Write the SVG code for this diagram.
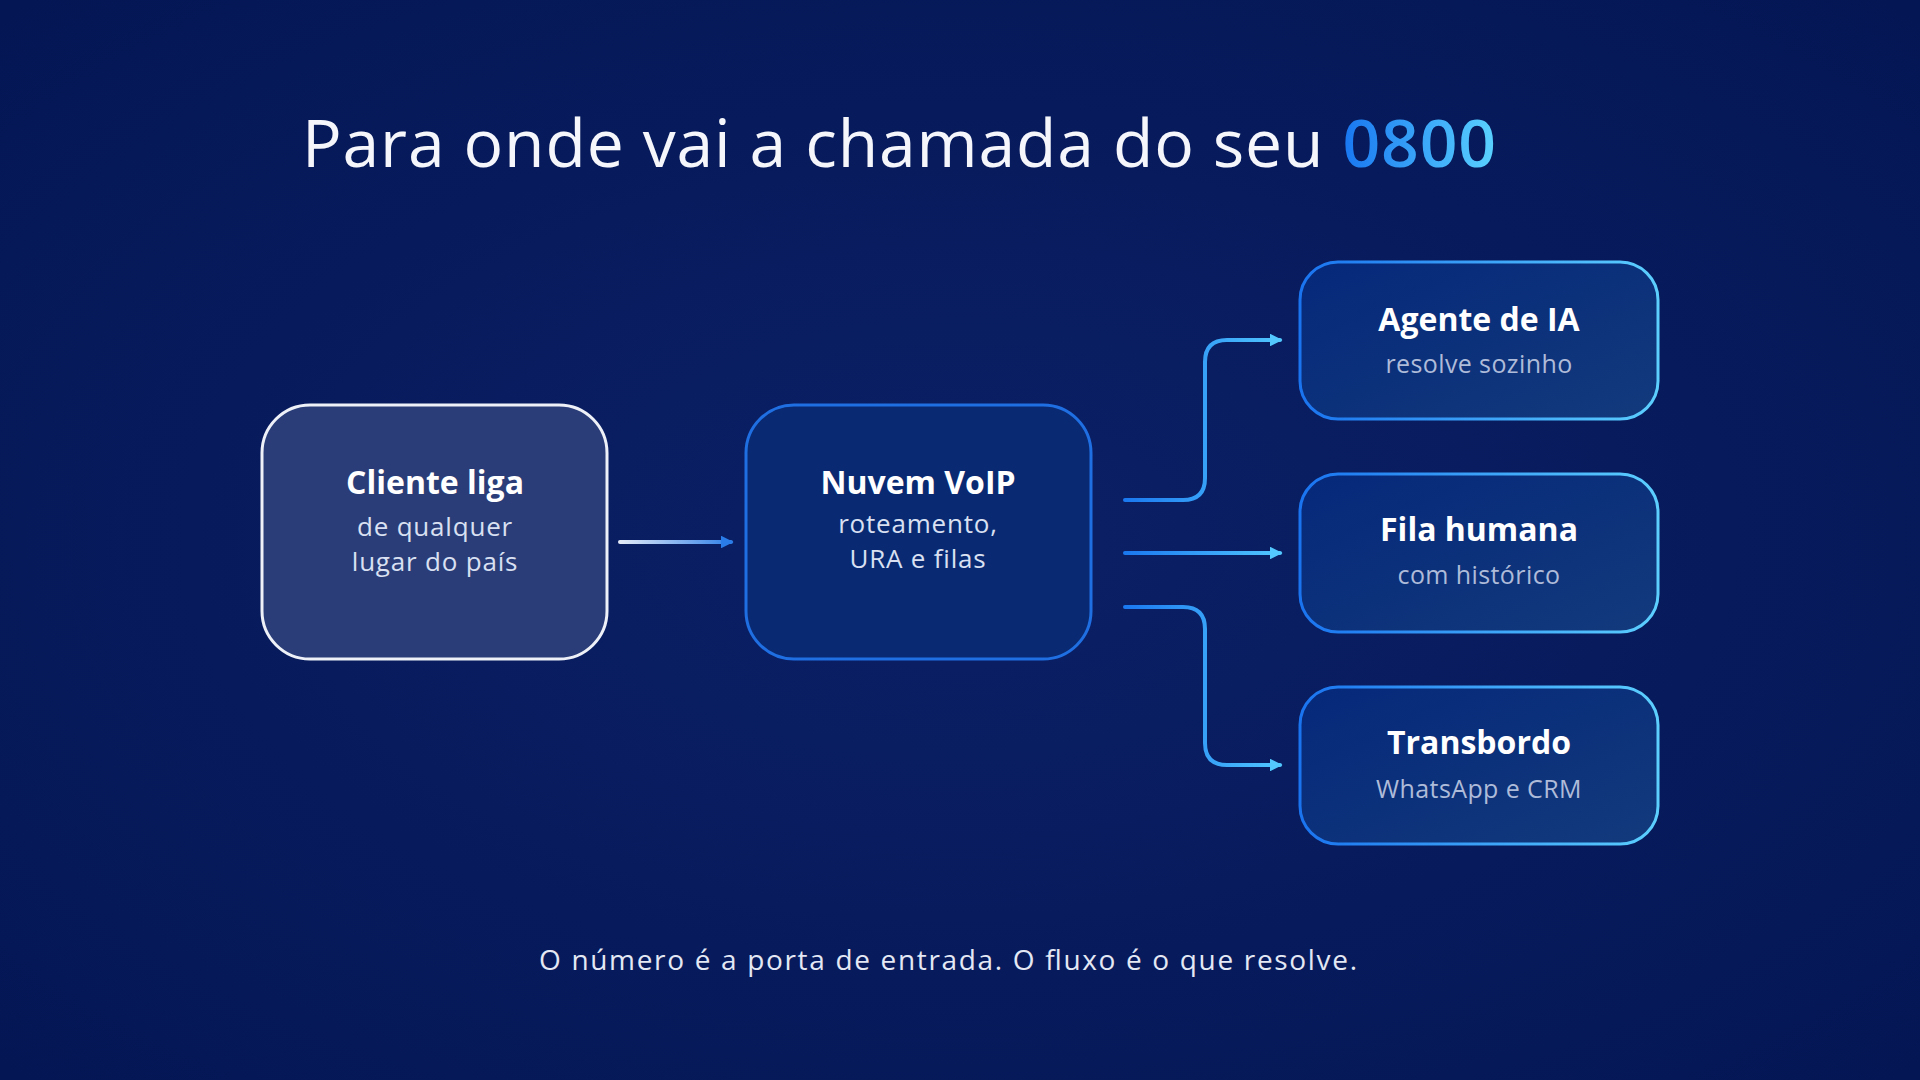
<svg xmlns="http://www.w3.org/2000/svg" width="1920" height="1080" viewBox="0 0 1920 1080">
<defs>
<radialGradient id="bg" cx="50%" cy="50%" r="70%">
<stop offset="0" stop-color="#0b2066"/>
<stop offset="1" stop-color="#041654"/>
</radialGradient>
<linearGradient id="num" gradientUnits="userSpaceOnUse" x1="1335" y1="0" x2="1496" y2="0">
<stop offset="0" stop-color="#1572f0"/>
<stop offset="1" stop-color="#5ad2ff"/>
</linearGradient>
<linearGradient id="rfill" x1="0" y1="0" x2="1" y2="1">
<stop offset="0" stop-color="#06287a"/>
<stop offset="1" stop-color="#123a7c"/>
</linearGradient>
<linearGradient id="rstroke" x1="0" y1="0" x2="1" y2="0">
<stop offset="0" stop-color="#1a74f0"/>
<stop offset="1" stop-color="#5ccfff"/>
</linearGradient>
<linearGradient id="a1" gradientUnits="userSpaceOnUse" x1="618" y1="0" x2="735" y2="0">
<stop offset="0" stop-color="#e6ecf8"/>
<stop offset="1" stop-color="#2a7de8"/>
</linearGradient>
<linearGradient id="br" gradientUnits="userSpaceOnUse" x1="1124" y1="0" x2="1284" y2="0">
<stop offset="0" stop-color="#1a78f0"/>
<stop offset="1" stop-color="#52c8ff"/>
</linearGradient>
<marker id="ah1" viewBox="0 0 10 10" refX="8" refY="5" markerWidth="3.2" markerHeight="3.2" orient="auto" markerUnits="strokeWidth">
<path d="M0,0 L10,5 L0,10 z" fill="#2a7de8"/>
</marker>
<marker id="ah2" viewBox="0 0 10 10" refX="8" refY="5" markerWidth="3.2" markerHeight="3.2" orient="auto" markerUnits="strokeWidth">
<path d="M0,0 L10,5 L0,10 z" fill="#52c8ff"/>
</marker>
<style>
.t{font-family:"Open Sans",Lato,"Liberation Sans",sans-serif;text-anchor:middle}
.h{font-weight:700;font-size:32px;fill:#ffffff}
.s{font-size:26px;fill:#d9e0f2;letter-spacing:0.8px}
.g{font-size:25px;fill:#aebbd9;letter-spacing:0.4px}
.conn{fill:none;stroke-width:4;stroke-linecap:round;stroke-linejoin:round}
</style>
</defs>
<rect width="1920" height="1080" fill="url(#bg)"/>
<text id="title" x="302" y="167" font-family="'Open Sans',Lato,'Liberation Sans',sans-serif" font-size="66" fill="#f4f6fb" textLength="1194" lengthAdjust="spacing">Para onde vai a chamada do seu <tspan fill="url(#num)" font-weight="600">0800</tspan></text>

<g id="connectors">
<path class="conn" d="M620,542 L731,542" stroke="url(#a1)" marker-end="url(#ah1)"/>
<path class="conn" d="M1125,500 L1183,500 Q1205,500 1205,478 L1205,362 Q1205,340 1227,340 L1280,340" stroke="url(#br)" marker-end="url(#ah2)"/>
<path class="conn" d="M1125,553 L1280,553" stroke="url(#br)" marker-end="url(#ah2)"/>
<path class="conn" d="M1125,607 L1183,607 Q1205,607 1205,629 L1205,743 Q1205,765 1227,765 L1280,765" stroke="url(#br)" marker-end="url(#ah2)"/>
</g>

<g id="node-cliente">
<rect x="262" y="405" width="345" height="254" rx="48" fill="#2a3d78" stroke="#eef1f8" stroke-width="3"/>
<text class="t h" x="435" y="494">Cliente liga</text>
<text class="t s" x="435" y="536">de qualquer</text>
<text class="t s" x="435" y="571">lugar do país</text>
</g>

<g id="node-voip">
<rect x="746" y="405" width="345" height="254" rx="48" fill="#092a72" stroke="#1f6fe2" stroke-width="3"/>
<text class="t h" x="918" y="494">Nuvem VoIP</text>
<text class="t s" x="918" y="533">roteamento,</text>
<text class="t s" x="918" y="568">URA e filas</text>
</g>

<g id="node-agente">
<rect x="1300" y="262" width="358" height="157" rx="38" fill="url(#rfill)" stroke="url(#rstroke)" stroke-width="3"/>
<text class="t h" x="1479" y="331">Agente de IA</text>
<text class="t g" x="1479" y="373">resolve sozinho</text>
</g>

<g id="node-fila">
<rect x="1300" y="474" width="358" height="158" rx="38" fill="url(#rfill)" stroke="url(#rstroke)" stroke-width="3"/>
<text class="t h" x="1479" y="541">Fila humana</text>
<text class="t g" x="1479" y="584">com histórico</text>
</g>

<g id="node-transbordo">
<rect x="1300" y="687" width="358" height="157" rx="38" fill="url(#rfill)" stroke="url(#rstroke)" stroke-width="3"/>
<text class="t h" x="1479" y="754">Transbordo</text>
<text class="t g" x="1479" y="798">WhatsApp e CRM</text>
</g>

<text id="footer" x="948" y="970" font-family="'Open Sans',Lato,'Liberation Sans',sans-serif" font-size="28" fill="#e3e8f4" text-anchor="middle" textLength="818" lengthAdjust="spacing">O número é a porta de entrada. O fluxo é o que resolve.</text>
</svg>
